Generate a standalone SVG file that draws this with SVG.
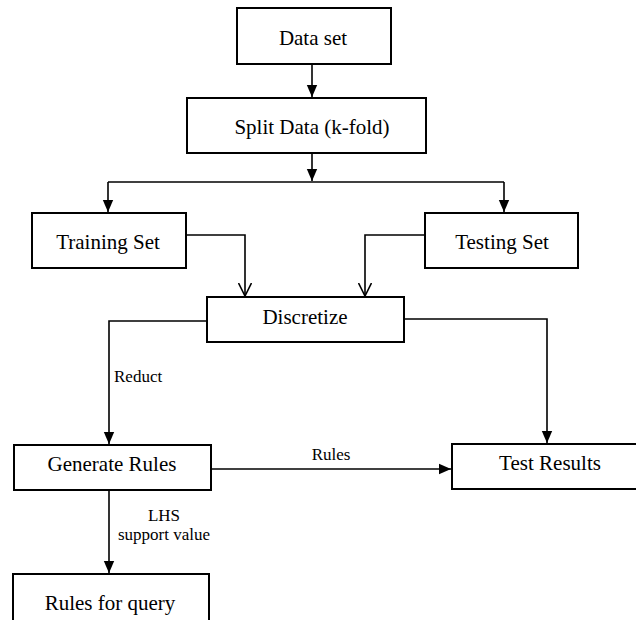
<svg xmlns="http://www.w3.org/2000/svg" width="636" height="620" viewBox="0 0 636 620">
<style>
.box{fill:#fff;stroke:#000;stroke-width:2}
.t{font-family:"Liberation Serif","Times New Roman",serif;font-size:21px;fill:#000;text-anchor:middle}
.l{font-family:"Liberation Serif","Times New Roman",serif;font-size:17px;fill:#000}
.c{fill:none;stroke:#000;stroke-width:1.6}
</style>
<defs>
<marker id="fa" markerUnits="userSpaceOnUse" markerWidth="12" markerHeight="12" viewBox="0 0 12 12" refX="12" refY="6" orient="auto">
<path d="M0,0.8 L12,6 L0,11.2 Z" fill="#000"/>
</marker>
<marker id="oa" markerUnits="userSpaceOnUse" markerWidth="14" markerHeight="14" viewBox="0 0 14 14" refX="13" refY="7" orient="auto">
<path d="M0,0.5 L13,7 L0,13.5" fill="none" stroke="#000" stroke-width="1.6"/>
</marker>
</defs>
<rect width="636" height="620" fill="#fff"/>
<g id="connectors">
<path class="c" d="M312,64 L312,97" marker-end="url(#fa)"/>
<path class="c" d="M312,153 L312,181" marker-end="url(#fa)"/>
<path class="c" d="M108,182 L504,182"/>
<path class="c" d="M108,182 L108,212" marker-end="url(#fa)"/>
<path class="c" d="M504,182 L504,212" marker-end="url(#fa)"/>
<path class="c" d="M186,235 L245,235 L245,296" marker-end="url(#oa)"/>
<path class="c" d="M425,235 L365,235 L365,296" marker-end="url(#oa)"/>
<path class="c" d="M207,321 L109,321 L109,444" marker-end="url(#fa)"/>
<path class="c" d="M404,319 L547,319 L547,443" marker-end="url(#fa)"/>
<path class="c" d="M211,469 L451,469" marker-end="url(#fa)"/>
<path class="c" d="M109,490 L109,573" marker-end="url(#fa)"/>
<text class="l" x="114" y="382">Reduct</text>
<text class="l" x="331" y="460" text-anchor="middle">Rules</text>
<text class="l" x="164" y="521" text-anchor="middle">LHS</text>
<text class="l" x="164" y="540" text-anchor="middle">support value</text>
</g>
<g id="data-set">
<rect class="box" x="237" y="8" width="154" height="56"/>
<text class="t" x="313" y="45">Data set</text>
</g>
<g id="split-data">
<rect class="box" x="187" y="98" width="239" height="55"/>
<text class="t" x="312" y="134">Split Data (k-fold)</text>
</g>
<g id="training-set">
<rect class="box" x="32" y="213" width="154" height="55"/>
<text class="t" x="108" y="249">Training Set</text>
</g>
<g id="testing-set">
<rect class="box" x="425" y="213" width="153" height="55"/>
<text class="t" x="502" y="249">Testing Set</text>
</g>
<g id="discretize">
<rect class="box" x="207" y="297" width="197" height="45"/>
<text class="t" x="305" y="324">Discretize</text>
</g>
<g id="generate-rules">
<rect class="box" x="14" y="445" width="197" height="45"/>
<text class="t" x="112" y="471">Generate Rules</text>
</g>
<g id="test-results">
<rect class="box" x="452" y="444" width="190" height="45"/>
<text class="t" x="550" y="470">Test Results</text>
</g>
<g id="rules-for-query">
<rect class="box" x="13" y="574" width="196" height="60"/>
<text class="t" x="110" y="610">Rules for query</text>
</g>
</svg>
